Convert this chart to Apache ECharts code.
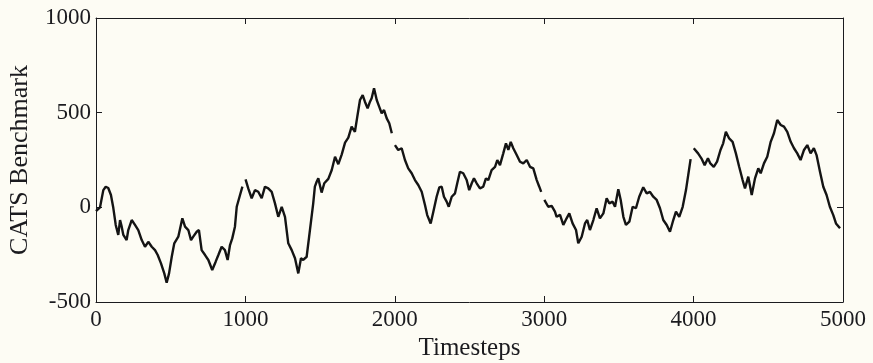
<!DOCTYPE html>
<html lang="en">
<head>
    <meta charset="UTF-8">
    <title>CATS Benchmark</title>
    <script src="https://cdn.jsdelivr.net/npm/echarts/dist/echarts.min.js"></script>
    <style>
        html, body { margin: 0; padding: 0; background: #fdfcf4; }
    </style>
</head>
<body>
<div id="chart" style="width: 873px; height: 363px;"></div>
<script>
    // values, null = missing block (no line drawn)
    var timesteps = [
        0, 27, 49, 65, 82, 100, 116, 132, 149, 161, 172, 183, 205, 216, 239, 261, 283, 306, 328, 350,
        373, 395, 413, 435, 457, 473, 489, 507, 524, 551, 578, 596, 618, 636, 651, 674, 689, 707, 730, 752,
        778, 801, 819, 841, 863, 881, 897, 912, 930, 942, 964, 980, 990,
        1001, 1019, 1042, 1064, 1086, 1109, 1131, 1153, 1176, 1198, 1220, 1243, 1265, 1287, 1310, 1332, 1354, 1372,
        1387, 1410, 1432, 1454, 1465, 1477, 1488, 1510, 1528, 1555, 1578, 1600, 1622, 1645, 1667, 1689, 1711, 1733,
        1749, 1767, 1785, 1800, 1818, 1834, 1845, 1861, 1879, 1896, 1912, 1928, 1946, 1963, 1980, 1990,
        2001, 2023, 2046, 2068, 2090, 2113, 2135, 2157, 2180, 2202, 2217, 2240, 2258, 2280, 2298, 2314, 2329, 2347,
        2361, 2381, 2403, 2418, 2436, 2458, 2481, 2498, 2515, 2530, 2548, 2570, 2592, 2610, 2626, 2648, 2671, 2686,
        2704, 2726, 2744, 2760, 2776, 2793, 2816, 2838, 2860, 2883, 2905, 2927, 2950, 2967, 2980, 2990,
        3001, 3027, 3050, 3072, 3083, 3106, 3128, 3150, 3168, 3190, 3213, 3228, 3251, 3273, 3288, 3306, 3329, 3351,
        3373, 3396, 3418, 3436, 3458, 3474, 3496, 3512, 3530, 3547, 3570, 3592, 3614, 3636, 3663, 3686, 3708, 3730,
        3753, 3775, 3797, 3820, 3842, 3864, 3882, 3904, 3927, 3949, 3980, 3990,
        4001, 4030, 4052, 4074, 4096, 4112, 4135, 4157, 4180, 4198, 4216, 4238, 4261, 4283, 4305, 4328, 4344, 4366,
        4389, 4411, 4433, 4449, 4471, 4493, 4516, 4538, 4560, 4583, 4605, 4627, 4650, 4672, 4694, 4716, 4739, 4761,
        4783, 4805, 4823, 4846, 4868, 4890, 4912, 4935, 4953, 4980
    ];
    var benchmark = [
        -20, 0, 91, 109, 102, 65, -4, -93, -146, -67, -102, -146, -173, -120, -67, -93, -120, -173, -208, -182,
        -208, -226, -252, -296, -349, -398, -349, -261, -190, -155, -58, -102, -120, -173, -155, -129, -120, -226, -252, -278,
        -331, -287, -252, -208, -226, -278, -199, -164, -102, 3, 65, 109, null,
        148, 100, 48, 91, 82, 48, 109, 100, 82, 21, -50, 3, -50, -190, -226, -269, -349, -269,
        -278, -261, -120, 21, 109, 135, 153, 78, 127, 150, 197, 267, 228, 280, 342, 368, 426, 399,
        479, 567, 593, 558, 523, 558, 576, 629, 567, 531, 497, 514, 470, 444, 391, null,
        329, 303, 312, 250, 206, 180, 144, 118, 82, 12, -41, -85, -23, 56, 105, 109, 56, 30,
        3, 56, 74, 127, 188, 180, 144, 91, 127, 153, 127, 100, 109, 153, 144, 197, 214, 250,
        223, 285, 338, 303, 346, 312, 276, 241, 232, 250, 214, 206, 144, 109, 82, null,
        39, 3, 8, -23, -50, -40, -93, -58, -32, -85, -120, -190, -155, -85, -67, -120, -67, -5,
        -58, -32, 48, 21, 30, 3, 95, 39, -50, -93, -76, 3, -5, 56, 106, 74, 82, 56,
        39, -5, -67, -93, -129, -67, -23, -50, 3, 91, 255, null,
        312, 285, 259, 223, 259, 232, 214, 241, 303, 338, 399, 364, 346, 285, 214, 144, 100, 162,
        65, 153, 206, 180, 232, 267, 346, 391, 461, 435, 426, 399, 346, 312, 285, 250, 303, 329,
        285, 312, 276, 188, 109, 65, 3, -41, -85, -111
    ];
    var xTicks = [0, 5000, 1000];
    var yTicks = [-500, 1000, 500];

    var ink = '#1b1b1f';
    var serif = 'Liberation Serif';

    var points = timesteps.map(function (t, i) {
        return [t, benchmark[i] === null ? '-' : benchmark[i]];
    });

    function frameAxis(pos, ticks, showLabel) {
        return {
            type: 'value',
            position: pos,
            min: ticks[0],
            max: ticks[1],
            interval: ticks[2],
            splitLine: { show: false },
            axisLine: { show: true, onZero: false, lineStyle: { color: ink, width: 1 } },
            axisTick: { show: true, inside: true, length: 6, lineStyle: { color: ink, width: 1 } },
            axisLabel: {
                show: showLabel,
                color: ink,
                fontFamily: serif,
                fontSize: 23,
                margin: pos === 'left' ? 5 : 6,
                formatter: function (v) { return String(v); }
            }
        };
    }

    var chart = echarts.init(document.getElementById('chart'));

    var xBottom = frameAxis('bottom', xTicks, true);
    xBottom.name = 'Timesteps';
    xBottom.nameLocation = 'middle';
    xBottom.nameGap = 30;
    xBottom.nameTextStyle = { color: ink, fontFamily: serif, fontSize: 25 };

    var yLeft = frameAxis('left', yTicks, true);
    yLeft.name = 'CATS Benchmark';
    yLeft.nameLocation = 'middle';
    yLeft.nameGap = 63;
    yLeft.nameTextStyle = { color: ink, fontFamily: serif, fontSize: 26 };

    chart.setOption({
        backgroundColor: '#fdfcf4',
        animation: false,
        grid: { left: 96, right: 30, top: 18, bottom: 61, containLabel: false, outerBoundsMode: 'none' },
        xAxis: [xBottom, frameAxis('top', xTicks, false)],
        yAxis: [yLeft, frameAxis('right', yTicks, false)],
        series: [{
            type: 'line',
            data: points,
            showSymbol: false,
            connectNulls: false,
            lineStyle: { color: '#141414', width: 2.4 }
        }]
    });
</script>
</body>
</html>
